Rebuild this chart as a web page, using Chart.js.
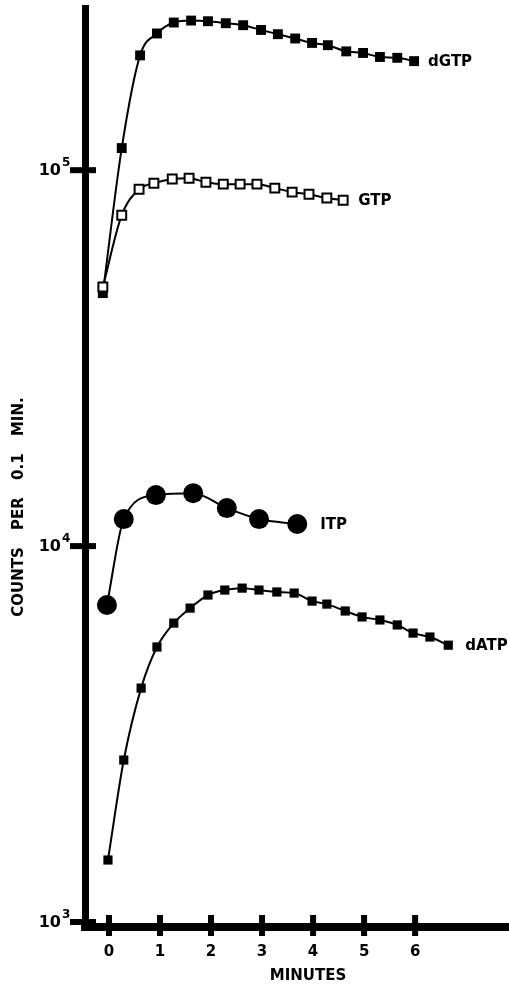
<!DOCTYPE html>
<html>
<head>
<meta charset="utf-8">
<script src="https://cdn.jsdelivr.net/npm/chart.js@4.4.1/dist/chart.umd.min.js"></script>
<style>
  html, body { margin: 0; padding: 0; background: #fff; }
  canvas { display: block; }
</style>
</head>
<body>
<canvas id="c" width="509" height="984"></canvas>
<script>
// Axis ticks
const xTicks = [0, 1, 2, 3, 4, 5, 6];
const yTicks = [1000, 10000, 100000];
const xRange = [-0.47, 7.84];
const yRange = [970, 270000];

// Time (minutes) and counts per 0.1 min for each nucleotide
const dGTPx = [-0.12, 0.25, 0.61, 0.94, 1.27, 1.61, 1.94, 2.29, 2.63, 2.98, 3.31, 3.65, 3.98, 4.29, 4.65, 4.98, 5.31, 5.65, 5.98];
const dGTPy = [47100, 114500, 202000, 231000, 247000, 250000, 249000, 246000, 243000, 236000, 230000, 224000, 218000, 215000, 207000, 205000, 200000, 199000, 195000];

const GTPx = [-0.12, 0.25, 0.59, 0.88, 1.24, 1.57, 1.90, 2.24, 2.57, 2.90, 3.25, 3.59, 3.92, 4.27, 4.59];
const GTPy = [48900, 75900, 89000, 92300, 94700, 95200, 92900, 91800, 91800, 91800, 89600, 87400, 86300, 84300, 83200];

const ITPx = [-0.04, 0.29, 0.92, 1.65, 2.31, 2.94, 3.69];
const ITPy = [6970, 11800, 13670, 13830, 12620, 11800, 11450];

const dATPx = [-0.02, 0.29, 0.63, 0.94, 1.27, 1.59, 1.94, 2.27, 2.61, 2.94, 3.29, 3.63, 3.98, 4.27, 4.63, 4.96, 5.31, 5.65, 5.96, 6.29, 6.65];
const dATPy = [1462, 2697, 4190, 5390, 6240, 6840, 7410, 7640, 7730, 7640, 7550, 7500, 7140, 7010, 6720, 6480, 6360, 6170, 5870, 5730, 5450];

const FONT = '"DejaVu Sans", "Liberation Sans", sans-serif';
const pts = (xs, ys) => xs.map((x, i) => ({ x, y: ys[i] }));

// Short tick bars crossing both axes, y tick labels as 10^n, titles
const axisDecor = {
  id: 'axisDecor',
  afterDraw(chart) {
    const { ctx } = chart;
    const xs = chart.scales.x, ys = chart.scales.y;
    ctx.save();
    ctx.strokeStyle = '#000';
    ctx.fillStyle = '#000';
    ctx.lineWidth = 6;
    ctx.lineCap = 'butt';
    xs.ticks.forEach(t => {
      const px = xs.getPixelForValue(t.value);
      ctx.beginPath();
      ctx.moveTo(px, xs.top - 12);
      ctx.lineTo(px, xs.top + 9);
      ctx.stroke();
    });
    ys.ticks.forEach(t => {
      const py = ys.getPixelForValue(t.value);
      ctx.beginPath();
      ctx.moveTo(ys.right - 15, py);
      ctx.lineTo(ys.right + 11, py);
      ctx.stroke();
      const exp = Math.round(Math.log10(t.value));
      ctx.textBaseline = 'alphabetic';
      ctx.font = 'bold 16px ' + FONT;
      ctx.textAlign = 'right';
      ctx.fillText('10', ys.right - 24, py + 5);
      ctx.font = 'bold 12px ' + FONT;
      ctx.textAlign = 'left';
      ctx.fillText(String(exp), ys.right - 23, py - 4);
    });
    // x title
    ctx.font = 'bold 15px ' + FONT;
    ctx.textAlign = 'center';
    ctx.textBaseline = 'middle';
    ctx.fillText('MINUTES', 308, 976);
    // y title
    ctx.translate(19, 507);
    ctx.rotate(-Math.PI / 2);
    ctx.font = 'bold 15px ' + FONT;
    try { ctx.wordSpacing = '12px'; } catch (e) {}
    ctx.fillText('COUNTS PER 0.1 MIN.', 0, 0);
    ctx.restore();
  }
};

// Series names written after the last point of each curve
const seriesNames = {
  id: 'seriesNames',
  afterDatasetsDraw(chart) {
    const { ctx } = chart;
    ctx.save();
    ctx.fillStyle = '#000';
    ctx.font = 'bold 15px ' + FONT;
    ctx.textAlign = 'left';
    ctx.textBaseline = 'middle';
    chart.data.datasets.forEach((ds, i) => {
      const meta = chart.getDatasetMeta(i);
      const last = meta.data[meta.data.length - 1];
      ctx.fillText(ds.label, last.x + ds.nameGap, last.y + 1);
    });
    ctx.restore();
  }
};

const lineBase = {
  showLine: true,
  borderColor: '#000',
  borderWidth: 2,
  cubicInterpolationMode: 'monotone',
  pointBorderColor: '#000',
  pointBackgroundColor: '#000',
  pointHoverRadius: 0
};

new Chart(document.getElementById('c'), {
  type: 'scatter',
  data: {
    datasets: [
      Object.assign({}, lineBase, {
        label: 'GTP', data: pts(GTPx, GTPy), nameGap: 15,
        pointStyle: 'rect', pointRadius: 6.3, pointBorderWidth: 2, pointBackgroundColor: '#fff'
      }),
      Object.assign({}, lineBase, {
        label: 'dGTP', data: pts(dGTPx, dGTPy), nameGap: 14,
        pointStyle: 'rect', pointRadius: 7, pointBorderWidth: 0
      }),
      Object.assign({}, lineBase, {
        label: 'ITP', data: pts(ITPx, ITPy), nameGap: 23,
        pointStyle: 'circle', pointRadius: 10, pointBorderWidth: 0
      }),
      Object.assign({}, lineBase, {
        label: 'dATP', data: pts(dATPx, dATPy), nameGap: 17,
        pointStyle: 'rect', pointRadius: 6.5, pointBorderWidth: 0
      })
    ]
  },
  options: {
    responsive: false,
    animation: false,
    devicePixelRatio: 1,
    layout: { autoPadding: false, padding: { top: 8, left: 0, right: 0, bottom: 0 } },
    plugins: { legend: { display: false }, tooltip: { enabled: false } },
    events: [],
    scales: {
      x: {
        type: 'linear',
        position: 'bottom',
        min: xRange[0],
        max: xRange[1],
        afterBuildTicks: s => { s.ticks = xTicks.map(v => ({ value: v })); },
        afterFit: s => { s.height = 57; },
        grid: { display: false, drawTicks: false },
        border: { display: true, color: '#000', width: 8 },
        ticks: {
          color: '#000',
          padding: 16,
          autoSkip: false,
          maxRotation: 0,
          font: { family: FONT, weight: 'bold', size: 15 },
          callback: v => String(v)
        }
      },
      y: {
        type: 'logarithmic',
        position: 'left',
        min: yRange[0],
        max: yRange[1],
        afterBuildTicks: s => { s.ticks = yTicks.map(v => ({ value: v })); },
        afterFit: s => { s.width = 85; },
        grid: { display: false, drawTicks: false },
        border: { display: true, color: '#000', width: 7 },
        ticks: { display: false }
      }
    }
  },
  plugins: [axisDecor, seriesNames]
});
</script>
</body>
</html>
